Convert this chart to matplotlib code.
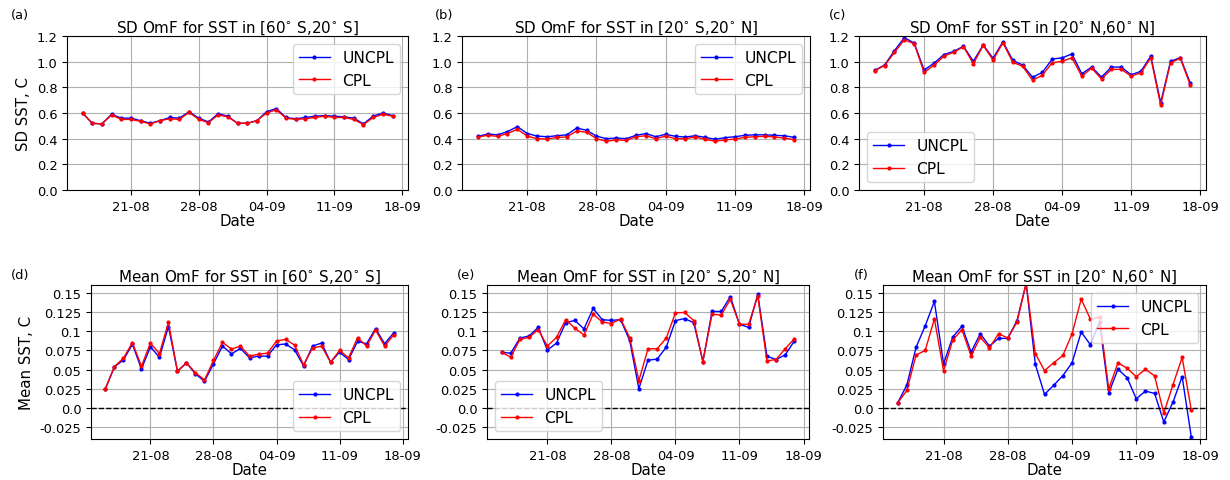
import numpy as np
import pandas as pd
import matplotlib
matplotlib.use('Agg')
import matplotlib.pyplot as plt
import matplotlib.dates as mdates

# daily values, 16-08-2017 .. 17-09-2017
dates = pd.date_range('2017-08-16', '2017-09-17', freq='D')

# SD OmF
sd_s_unc = [0.60, 0.52, 0.515, 0.59, 0.56, 0.56, 0.54, 0.52, 0.54, 0.565, 0.56, 0.61, 0.56, 0.53, 0.595, 0.575, 0.52,
            0.52, 0.54, 0.61, 0.635, 0.565, 0.555, 0.565, 0.575, 0.58, 0.575, 0.57, 0.56, 0.515, 0.575, 0.60, 0.58]
sd_s_cpl = [0.60, 0.52, 0.515, 0.585, 0.55, 0.55, 0.535, 0.515, 0.54, 0.555, 0.55, 0.605, 0.55, 0.525, 0.585, 0.57, 0.52,
            0.52, 0.54, 0.60, 0.625, 0.56, 0.55, 0.555, 0.565, 0.575, 0.565, 0.565, 0.55, 0.51, 0.565, 0.59, 0.575]
sd_t_unc = [0.418, 0.436, 0.43, 0.455, 0.494, 0.44, 0.42, 0.415, 0.423, 0.43, 0.483, 0.465, 0.42, 0.40, 0.405, 0.40, 0.426,
            0.44, 0.415, 0.434, 0.418, 0.413, 0.423, 0.41, 0.395, 0.408, 0.415, 0.426, 0.43, 0.43, 0.426, 0.423, 0.41]
sd_t_cpl = [0.413, 0.426, 0.418, 0.44, 0.473, 0.42, 0.40, 0.397, 0.41, 0.413, 0.46, 0.45, 0.40, 0.38, 0.39, 0.387, 0.415,
            0.423, 0.40, 0.42, 0.40, 0.40, 0.413, 0.395, 0.38, 0.39, 0.397, 0.41, 0.415, 0.418, 0.413, 0.405, 0.392]
sd_n_unc = [0.932, 0.974, 1.086, 1.187, 1.145, 0.935, 0.987, 1.055, 1.08, 1.12, 1.003, 1.13, 1.026, 1.156, 1.01, 0.974,
            0.878, 0.917, 1.02, 1.03, 1.06, 0.906, 0.958, 0.88, 0.958, 0.958, 0.898, 0.925, 1.044, 0.68, 1.003, 1.031, 0.834]
sd_n_cpl = [0.93, 0.97, 1.073, 1.17, 1.14, 0.917, 0.971, 1.042, 1.073, 1.117, 0.984, 1.127, 1.013, 1.148, 0.995, 0.964,
            0.855, 0.894, 0.992, 1.003, 1.03, 0.886, 0.95, 0.865, 0.94, 0.94, 0.888, 0.912, 1.031, 0.662, 0.992, 1.026, 0.818]

# Mean OmF
mean_s_unc = [0.0253, 0.0536, 0.0628, 0.083, 0.051, 0.0798, 0.066, 0.106, 0.048, 0.0589, 0.0445, 0.035, 0.0576, 0.0807,
              0.0706, 0.0776, 0.0654, 0.0676, 0.0676, 0.0824, 0.0833, 0.0759, 0.055, 0.0807, 0.0846, 0.0597, 0.0728,
              0.0632, 0.0868, 0.0837, 0.1034, 0.0837, 0.0977]
mean_s_cpl = [0.0253, 0.054, 0.065, 0.085, 0.0545, 0.0846, 0.071, 0.1116, 0.048, 0.0589, 0.046, 0.0366, 0.062, 0.0855,
              0.0768, 0.0807, 0.0676, 0.0702, 0.0715, 0.0872, 0.0894, 0.082, 0.0563, 0.078, 0.0807, 0.0597, 0.075,
              0.0654, 0.0916, 0.0807, 0.1016, 0.0807, 0.095]
mean_t_unc = [0.0724, 0.0715, 0.0911, 0.0938, 0.105, 0.0754, 0.0846, 0.111, 0.114, 0.103, 0.1295, 0.115, 0.114, 0.115,
              0.088, 0.0253, 0.0624, 0.0637, 0.0794, 0.1138, 0.1164, 0.111, 0.0606, 0.1256, 0.1256, 0.1448, 0.109,
              0.105, 0.148, 0.0676, 0.0632, 0.0693, 0.0872]
mean_t_cpl = [0.0724, 0.0663, 0.0894, 0.092, 0.102, 0.0807, 0.092, 0.115, 0.104, 0.095, 0.122, 0.112, 0.11, 0.116,
              0.0916, 0.0358, 0.0772, 0.0772, 0.0911, 0.1239, 0.1243, 0.1138, 0.0606, 0.122, 0.121, 0.1413, 0.109,
              0.109, 0.1457, 0.0615, 0.0632, 0.0772, 0.0903]
mean_n_unc = [0.007, 0.030, 0.079, 0.107, 0.1387, 0.0576, 0.0925, 0.1064, 0.0728, 0.0968, 0.0807, 0.0907, 0.0907, 0.1138,
              0.162, 0.0571, 0.0179, 0.0297, 0.0423, 0.0589, 0.099, 0.0824, 0.112, 0.0196, 0.0506, 0.0397, 0.0122,
              0.0222, 0.0192, -0.0179, 0.0078, 0.041, -0.0375]
mean_n_cpl = [0.007, 0.023, 0.069, 0.075, 0.116, 0.0488, 0.0885, 0.102, 0.068, 0.092, 0.0785, 0.0968, 0.0911, 0.112,
              0.162, 0.071, 0.0488, 0.0589, 0.0685, 0.0964, 0.1417, 0.1156, 0.118, 0.0249, 0.0589, 0.0519, 0.041,
              0.0506, 0.0419, -0.0065, 0.0305, 0.0659, -0.0026]

regions = [r'[60$^{\circ}$ S,20$^{\circ}$ S]', r'[20$^{\circ}$ S,20$^{\circ}$ N]', r'[20$^{\circ}$ N,60$^{\circ}$ N]']
mean_ticks = [-0.025, 0.0, 0.025, 0.05, 0.075, 0.1, 0.125, 0.15]
mean_ticklabels = ['-0.025', '0.0', '0.025', '0.05', '0.075', '0.1', '0.125', '0.15']

W, H = 1230, 481
fig = plt.figure(figsize=(W / 100, H / 100), dpi=100)


def add_ax(left, right, top, bottom):
    return fig.add_axes([left / W, 1 - bottom / H, (right - left) / W, (bottom - top) / H])


# axes boxes in pixels (left, right, top, bottom)
top_boxes = [(67, 408, 37, 191), (462, 810, 37, 191), (859, 1206, 37, 191)]
bot_boxes = [(91, 408, 286, 440), (487, 809, 286, 440), (883, 1206, 286, 440)]
top_labels = [('(a)', 20), ('(b)', 444), ('(c)', 838)]
bot_labels = [('(d)', 20), ('(e)', 466), ('(f)', 861)]

sd_data = [(sd_s_unc, sd_s_cpl), (sd_t_unc, sd_t_cpl), (sd_n_unc, sd_n_cpl)]
mean_data = [(mean_s_unc, mean_s_cpl), (mean_t_unc, mean_t_cpl), (mean_n_unc, mean_n_cpl)]
sd_leg = ['upper right', 'upper right', 'lower left']
mean_leg = ['lower right', 'lower left', 'upper right']

fs_tick = 9.4
fs_title = 10.9
fs_label = 10.8
fs_leg = 11.2


def style(ax):
    ax.grid(True)
    ax.xaxis.set_major_locator(mdates.WeekdayLocator(byweekday=mdates.MO))
    ax.xaxis.set_major_formatter(mdates.DateFormatter('%d-%m'))
    ax.tick_params(labelsize=fs_tick)
    ax.set_xlabel('Date', fontsize=fs_label, labelpad=0)


for i in range(3):
    ax = add_ax(*top_boxes[i])
    unc, cpl = sd_data[i]
    ax.plot(dates, unc, 'b.-', lw=1, ms=4, label='UNCPL')
    ax.plot(dates, cpl, 'r.-', lw=1, ms=4, label='CPL')
    ax.set_ylim(0, 1.2)
    ax.set_yticks(np.arange(0, 1.21, 0.2))
    style(ax)
    ax.set_title('SD OmF for SST in ' + regions[i], fontsize=fs_title, pad=3)
    ax.legend(loc=sd_leg[i], fontsize=fs_leg)
    if i == 0:
        ax.set_ylabel('SD SST, C', fontsize=fs_label)
    lab, x = top_labels[i]
    fig.text(x / W, 1 - 16 / H, lab, fontsize=fs_tick, ha='center', va='center')

for i in range(3):
    ax = add_ax(*bot_boxes[i])
    unc, cpl = mean_data[i]
    ax.plot(dates, unc, 'b.-', lw=1, ms=4, label='UNCPL')
    ax.plot(dates, cpl, 'r.-', lw=1, ms=4, label='CPL')
    ax.axhline(0, color='k', ls='--', lw=1)
    ax.set_ylim(-0.04, 0.16)
    ax.set_yticks(mean_ticks, mean_ticklabels)
    style(ax)
    ax.set_title('Mean OmF for SST in ' + regions[i], fontsize=fs_title, pad=3)
    ax.legend(loc=mean_leg[i], fontsize=fs_leg)
    if i == 0:
        ax.set_ylabel('Mean SST, C', fontsize=fs_label)
    lab, x = bot_labels[i]
    fig.text(x / W, 1 - 276 / H, lab, fontsize=fs_tick, ha='center', va='center')

fig.savefig('out.png', dpi=100)
